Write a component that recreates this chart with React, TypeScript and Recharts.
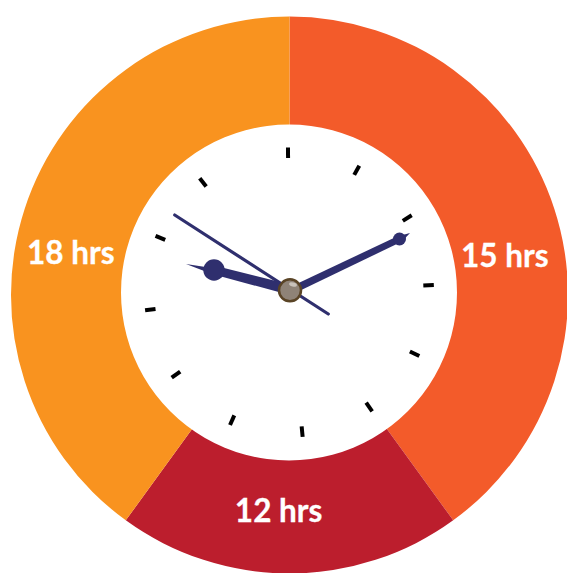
import React from "react";
import { PieChart, Pie, Cell } from "recharts";

const categories = ["15 hrs", "12 hrs", "18 hrs"];
// slice sizes as drawn in the picture (they are not proportional to the labels)
const sliceShares = [40, 20, 40];
const sliceColors = ["#f35b2a", "#bc1e2d", "#f9931f"];
const labelAngles = [79.5, 182.9, 281.2];
const labelRadii = [219, 215, 223];
const tickAngles = [-0.4, 29, 57.8, 87, 116, 145, 174.6, 204, 234, 263, 293, 322];

const data = categories.map((name, i) => ({ name, value: sliceShares[i] }));
const faceRing = [{ name: "face", value: 1 }];

const FACE_X = 289;
const FACE_Y = 292.5;
const NAVY = "#2f2f6e";

const polar = (x: number, y: number, r: number, deg: number) => {
  const a = (deg * Math.PI) / 180;
  return { x: x + r * Math.sin(a), y: y - r * Math.cos(a) };
};

const renderLabel = (props: any) => {
  const { cx, cy, index } = props;
  const p = polar(cx, cy, labelRadii[index], labelAngles[index]);
  return (
    <text
      x={p.x}
      y={p.y}
      fill="#ffffff"
      stroke="#ffffff"
      strokeWidth={0.3}
      textAnchor="middle"
      dominantBaseline="central"
      fontFamily="Lato, 'Open Sans', sans-serif"
      fontWeight={700}
      fontSize={31.5}
    >
      {categories[index]}
    </text>
  );
};

const ClockFace = () => (
  <g>
    {tickAngles.map((deg) => {
      const a = polar(FACE_X, FACE_Y, 134.5, deg);
      const b = polar(FACE_X, FACE_Y, 145, deg);
      return <line key={deg} x1={a.x} y1={a.y} x2={b.x} y2={b.y} stroke="#000000" strokeWidth={4} />;
    })}
    <line x1={174.7} y1={215} x2={328.3} y2={314} stroke={NAVY} strokeWidth={3.2} strokeLinecap="round" />
    <polygon points="186,264 212,268 216,266 288,284 286,294 212,274" fill={NAVY} />
    <circle cx={214} cy={270} r={10.7} fill={NAVY} />
    <polygon points="288,288 397,236.5 410,233 402,241.5 293,294" fill={NAVY} />
    <circle cx={399.5} cy={239} r={6.5} fill={NAVY} />
    <circle cx={290} cy={290.3} r={11} fill="#8f8377" stroke="#5a4426" strokeWidth={2.5} />
    <ellipse cx={293} cy={284.5} rx={4} ry={2} fill="#c9c2ba" transform="rotate(15 293 284.5)" />
  </g>
);

export default function App() {
  return (
    <div style={{ position: "absolute", left: 0, top: 0, width: 567, height: 573 }}>
      <PieChart width={567} height={573} margin={{ top: 0, right: 0, bottom: 0, left: 0 }}>
        <Pie
          data={data}
          dataKey="value"
          nameKey="name"
          cx={289.5}
          cy={295}
          outerRadius={278.5}
          innerRadius={150}
          startAngle={90}
          endAngle={-270}
          stroke="none"
          label={renderLabel}
          labelLine={false}
          isAnimationActive={false}
        >
          {data.map((d, i) => (
            <Cell key={d.name} fill={sliceColors[i]} />
          ))}
        </Pie>
        {/* white ring on the same offset centre as the clock face, covers the hole edge */}
        <Pie
          data={faceRing}
          dataKey="value"
          cx={FACE_X}
          cy={FACE_Y}
          outerRadius={168}
          innerRadius={146}
          startAngle={90}
          endAngle={-270}
          fill="#ffffff"
          stroke="none"
          isAnimationActive={false}
        />
        <ClockFace />
      </PieChart>
    </div>
  );
}
